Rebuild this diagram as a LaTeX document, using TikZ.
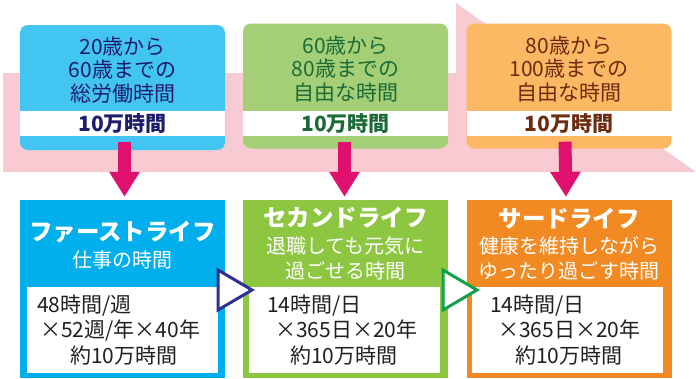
\documentclass[tikz,border=0pt]{standalone}
\usepackage{fontspec}
\setmainfont{Noto Sans CJK JP}
\usepackage{tikz}
\usetikzlibrary{calc}
\usetikzlibrary{arrows.meta}
\definecolor{bandpink}{HTML}{F8CBD3}
\definecolor{arrowpink}{HTML}{E0106F}
\definecolor{topblue}{HTML}{43C5F1}
\definecolor{topgreen}{HTML}{A5CF76}
\definecolor{toporange}{HTML}{FDB863}
\definecolor{txtblue}{HTML}{1D1D6B}
\definecolor{txtgreen}{HTML}{1C6B37}
\definecolor{txtbrown}{HTML}{6B2C10}
\definecolor{lifeblue}{HTML}{00AFEC}
\definecolor{lifegreen}{HTML}{8DC641}
\definecolor{lifeorange}{HTML}{F18A22}
\definecolor{trinavy}{HTML}{2E3192}
\definecolor{trigreen}{HTML}{12A04B}
\definecolor{calcgray}{HTML}{231F20}
\tikzset{
	agebox/.style={rounded corners=8pt,minimum width=205pt,minimum height=125pt,inner sep=0pt},
	hourband/.style={fill=white,minimum width=205pt,minimum height=25pt,inner sep=0pt},
	agetext/.style={align=center,font=\fontsize{21}{23.5}\selectfont},
	hourtext/.style={font=\bfseries\fontsize{21}{24}\selectfont},
	lifebox/.style={minimum width=205pt,minimum height=178pt,inner sep=0pt},
	lifetitle/.style={text=white,font=\bfseries\fontsize{23.5}{26}\selectfont},
	lifesub/.style={text=white,align=center,font=\fontsize{20}{24.5}\selectfont},
	calcbox/.style={fill=white,minimum width=191pt,minimum height=86pt,inner sep=0pt},
	calctext/.style={text=calcgray,align=left,anchor=west,inner sep=0pt,font=\fontsize{21}{25.5}\selectfont},
	pinkdown/.style={arrowpink,line width=13pt,-{Triangle[width=29pt,length=25pt]}},
	nexttri/.style={fill=white,line width=3pt,line join=miter},
}

\begin{document}
\begin{tikzpicture}[x=1pt,y=-1pt]
	%	\draw[help lines,step=50] (0,0) grid (696,378);
	\useasboundingbox (0,0) rectangle (696,378);
	% pink band with the bent arrow head
	\fill[bandpink] (3,73) -- (456,73) -- (456,3) -- (696,172) -- (3,172) -- cycle;
	
	% upper boxes
	\node[agebox,fill=topblue] (t1) at (122.5,87.5) {};
	\node[hourband] (h1) at (122.5,123.5) {};
	\node[agetext,text=txtblue] (a1) at (122.5,70) {20歳から\\60歳までの\\総労働時間};
	\node[hourtext,text=txtblue] (n1) at (h1) {10万時間};
	
	\node[agebox,fill=topgreen] (t2) at (345.5,86) {};
	\node[hourband] (h2) at (345.5,123.5) {};
	\node[agetext,text=txtgreen] (a2) at (345.5,69) {60歳から\\80歳までの\\自由な時間};
	\node[hourtext,text=txtgreen] (n2) at (h2) {10万時間};
	
	\node[agebox,fill=toporange] (t3) at (569,86) {};
	\node[hourband] (h3) at (569,123.5) {};
	\node[agetext,text=txtbrown] (a3) at (569,69) {80歳から\\100歳までの\\自由な時間};
	\node[hourtext,text=txtbrown] (n3) at (h3) {10万時間};
	
	% lower boxes
	\node[lifebox,fill=lifeblue] (b1) at (122.5,289) {};
	\node[calcbox] (c1) at (122.5,330) {};
	\node[lifetitle] (l1) at (122.5,232) {ファーストライフ};
	\node[lifesub] (s1) at (122.5,260) {仕事の時間};
	\node[calctext] (k1) at (37,330) {48時間/週\\\hspace*{3pt}×52週/年×40年\\\hspace*{33pt}約10万時間};
	
	\node[lifebox,fill=lifegreen] (b2) at (345.5,289) {};
	\node[calcbox] (c2) at (344,330) {};
	\node[lifetitle] (l2) at (345.5,218) {セカンドライフ};
	\node[lifesub] (s2) at (345.5,258.5) {退職しても元気に\\過ごせる時間};
	\node[calctext] (k2) at (267,330) {14時間/日\\\hspace*{8pt}×365日×20年\\\hspace*{23pt}約10万時間};
	
	\node[lifebox,fill=lifeorange] (b3) at (569,289) {};
	\node[calcbox] (c3) at (567.5,330) {};
	\node[lifetitle] (l3) at (569,219) {サードライフ};
	\node[lifesub] (s3) at (569,258.5) {健康を維持しながら\\ゆったり過ごす時間};
	\node[calctext] (k3) at (490,330) {14時間/日\\\hspace*{8pt}×365日×20年\\\hspace*{25pt}約10万時間};
	
	% down arrows
	\draw[pinkdown] ($(t1.south)+(2,-8)$) -- ($(b1.north)+(2,-3)$);
	\draw[pinkdown] ($(t2.south)+(-1,-7)$) -- ($(b2.north)+(-1,-3)$);
	\draw[pinkdown] ($(t3.south)+(-4,-7)$) -- ($(b3.north)+(-3,-3)$);
	
	% triangles between the lower boxes
	\draw[nexttri,draw=trinavy] (218,270) -- (252,290) -- (218,310) -- cycle;
	\draw[nexttri,draw=trigreen] (443,270) -- (477,290) -- (443,310) -- cycle;
	
\end{tikzpicture}
\end{document}
